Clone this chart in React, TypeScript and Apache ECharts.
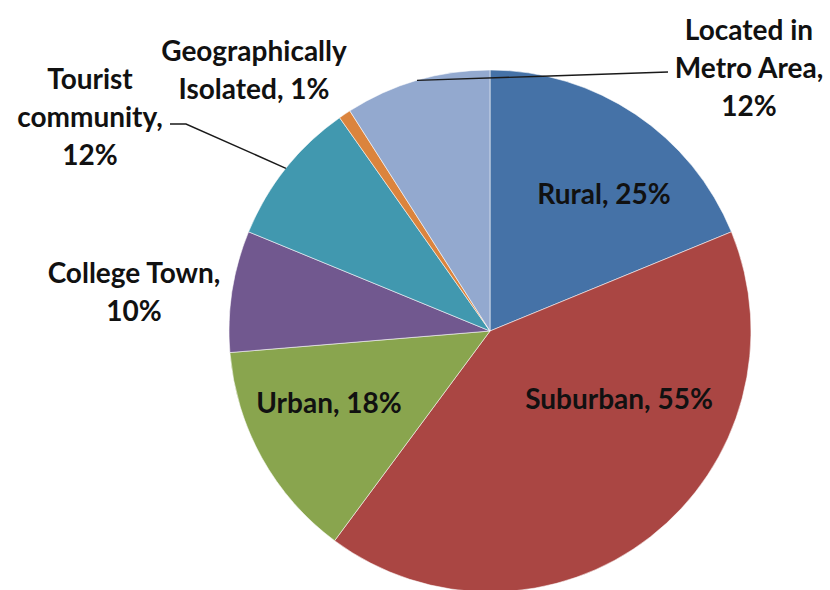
import React, { useEffect, useRef } from "react";
import * as echarts from "echarts";

// ---- data ----
const categories = [
  "Rural",
  "Suburban",
  "Urban",
  "College Town",
  "Tourist community",
  "Geographically Isolated",
  "Located in Metro Area",
];
const values = [25, 55, 18, 10, 12, 1, 12];
const colors = ["#4572A7", "#AA4643", "#89A54E", "#71588F", "#4198AF", "#DB843D", "#93A9CF"];

// ---- label layout (text wrapping, placement) ----
const labelNameLines = [
  "Rural",
  "Suburban",
  "Urban",
  "College Town",
  "Tourist\ncommunity",
  "Geographically\nIsolated",
  "Located in\nMetro Area",
];
const breakBeforeValue = [false, false, false, true, true, false, true];
const insideLabel = [true, true, true, false, false, false, false];
const showLeader = [false, false, false, false, true, false, true];
const labelCenters: number[][] = [
  [604, 193],
  [619, 398],
  [329, 402],
  [134, 291],
  [90, 116],
  [254, 69],
  [749, 67],
];
// leader end points (after the slice-edge anchor)
const leaderTail: Record<number, number[][]> = {
  4: [
    [186, 124],
    [170, 124],
  ],
  6: [[668, 72]],
};

export default function App() {
  const ref = useRef<HTMLDivElement>(null);
  useEffect(() => {
    document.body.style.margin = "0";
    if (!ref.current) return;
    const chart = echarts.init(ref.current, undefined, { renderer: "svg" });
    const sliceData = categories.map((name, i) => ({
      name,
      value: values[i],
      itemStyle: { color: colors[i] },
    }));
    const labelData = categories.map((name, i) => ({
      name,
      value: values[i],
      label: { position: insideLabel[i] ? "inside" : "outside" },
      labelLine: { show: showLeader[i] },
    }));
    const common = {
      type: "pie",
      center: [490, 331],
      radius: 261,
      startAngle: 90,
      clockwise: true,
      avoidLabelOverlap: false,
      silent: true,
      emphasis: { disabled: true },
    };
    chart.setOption({
      animation: false,
      backgroundColor: "#ffffff",
      series: [
        {
          ...common,
          z: 2,
          data: sliceData,
          itemStyle: { borderColor: "rgba(255,255,255,0.55)", borderWidth: 1 },
          label: { show: false },
          labelLine: { show: false },
        },
        {
          ...common,
          z: 5,
          data: labelData,
          itemStyle: { color: "rgba(0,0,0,0)", borderWidth: 0 },
          label: {
            show: true,
            fontFamily: "Lato",
            fontWeight: "bold",
            fontSize: 28,
            lineHeight: 38,
            color: "#111111",
            align: "center",
            formatter: (p: any) =>
              labelNameLines[p.dataIndex] +
              "," +
              (breakBeforeValue[p.dataIndex] ? "\n" : " ") +
              p.value +
              "%",
          },
          labelLine: {
            show: true,
            length: 20,
            length2: 20,
            lineStyle: { color: "#1a1a1a", width: 1.4 },
          },
          labelLayout: (params: any) => {
            const i = params.dataIndex;
            const c = labelCenters[i];
            const res: any = {
              x: c[0],
              y: c[1],
              align: "center",
              verticalAlign: "middle",
            };
            if (showLeader[i] && params.labelLinePoints) {
              const start = params.labelLinePoints[0];
              const tail = leaderTail[i];
              if (tail.length === 1) {
                const mid = [(start[0] + tail[0][0]) / 2, (start[1] + tail[0][1]) / 2];
                res.labelLinePoints = [start, mid, tail[0]];
              } else {
                res.labelLinePoints = [start, tail[0], tail[1]];
              }
            }
            return res;
          },
        },
      ],
    });
    return () => chart.dispose();
  }, []);
  return <div ref={ref} style={{ width: 830, height: 590 }} />;
}
